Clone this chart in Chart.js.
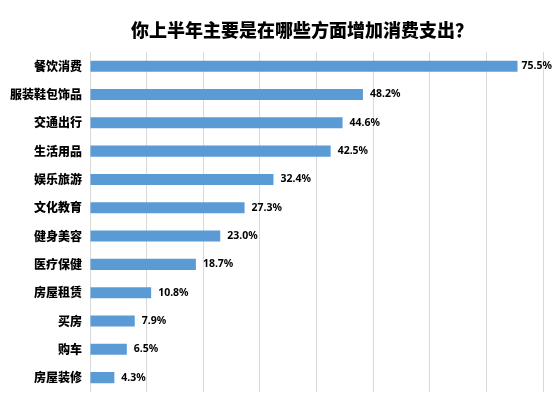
<!DOCTYPE html>
<html>
<head>
<meta charset="utf-8">
<script src="https://cdn.jsdelivr.net/npm/chart.js@4/dist/chart.umd.min.js"></script>
<style>
  html, body { margin: 0; padding: 0; background: #fff; }
  #wrap { width: 558px; height: 407px; }
</style>
</head>
<body>
<div id="wrap"><canvas id="myChart"></canvas></div>
<script>
var titleText = '你上半年主要是在哪些方面增加消费支出？';
var categories = ['餐饮消费', '服装鞋包饰品', '交通出行', '生活用品', '娱乐旅游', '文化教育',
                  '健身美容', '医疗保健', '房屋租赁', '买房', '购车', '房屋装修'];
var shares = [75.5, 48.2, 44.6, 42.5, 32.4, 27.3, 23.0, 18.7, 10.8, 7.9, 6.5, 4.3];

var cjk = '"Noto Sans CJK SC", "Noto Sans", sans-serif';

// title + value labels drawn on the canvas
var extras = {
  id: 'extras',
  afterDatasetsDraw: function(chart) {
    var c = chart.ctx;
    var meta = chart.getDatasetMeta(0);
    c.save();
    c.fillStyle = '#000';
    c.font = 'bold 10.5px "Liberation Sans Narrow", "Noto Sans", sans-serif';
    c.textAlign = 'left';
    c.textBaseline = 'middle';
    meta.data.forEach(function(bar, i) {
      var gap = i === 0 ? 4 : 7;
      c.fillText(shares[i].toFixed(1) + '%', bar.x + gap, bar.y);
    });
    c.font = '900 18px ' + cjk;
    c.textAlign = 'center';
    c.fillText(titleText, 302, 30);
    c.restore();
  }
};

var ctx = document.getElementById('myChart').getContext('2d');
var chart = new Chart(ctx, {
  type: 'bar',
  data: {
    labels: categories,
    datasets: [{
      data: shares,
      backgroundColor: '#5b9bd5',
      borderWidth: 0,
      barPercentage: 0.39,
      categoryPercentage: 1
    }]
  },
  options: {
    indexAxis: 'y',
    responsive: true,
    maintainAspectRatio: false,
    animation: false,
    layout: { padding: { top: 52, right: 15, bottom: 15, left: 0 } },
    plugins: {
      legend: { display: false },
      tooltip: { enabled: false }
    },
    scales: {
      x: {
        min: 0,
        max: 80,
        ticks: { display: false, stepSize: 10 },
        grid: { color: '#d9d9d9', drawTicks: false },
        border: { display: false }
      },
      y: {
        grid: { display: false, drawTicks: false },
        border: { color: '#d9d9d9' },
        ticks: {
          color: '#000',
          padding: 8,
          font: { family: cjk, size: 12, weight: '900' }
        },
        afterFit: function(scale) { scale.width = 90; }
      }
    }
  },
  plugins: [extras]
});
</script>
</body>
</html>
